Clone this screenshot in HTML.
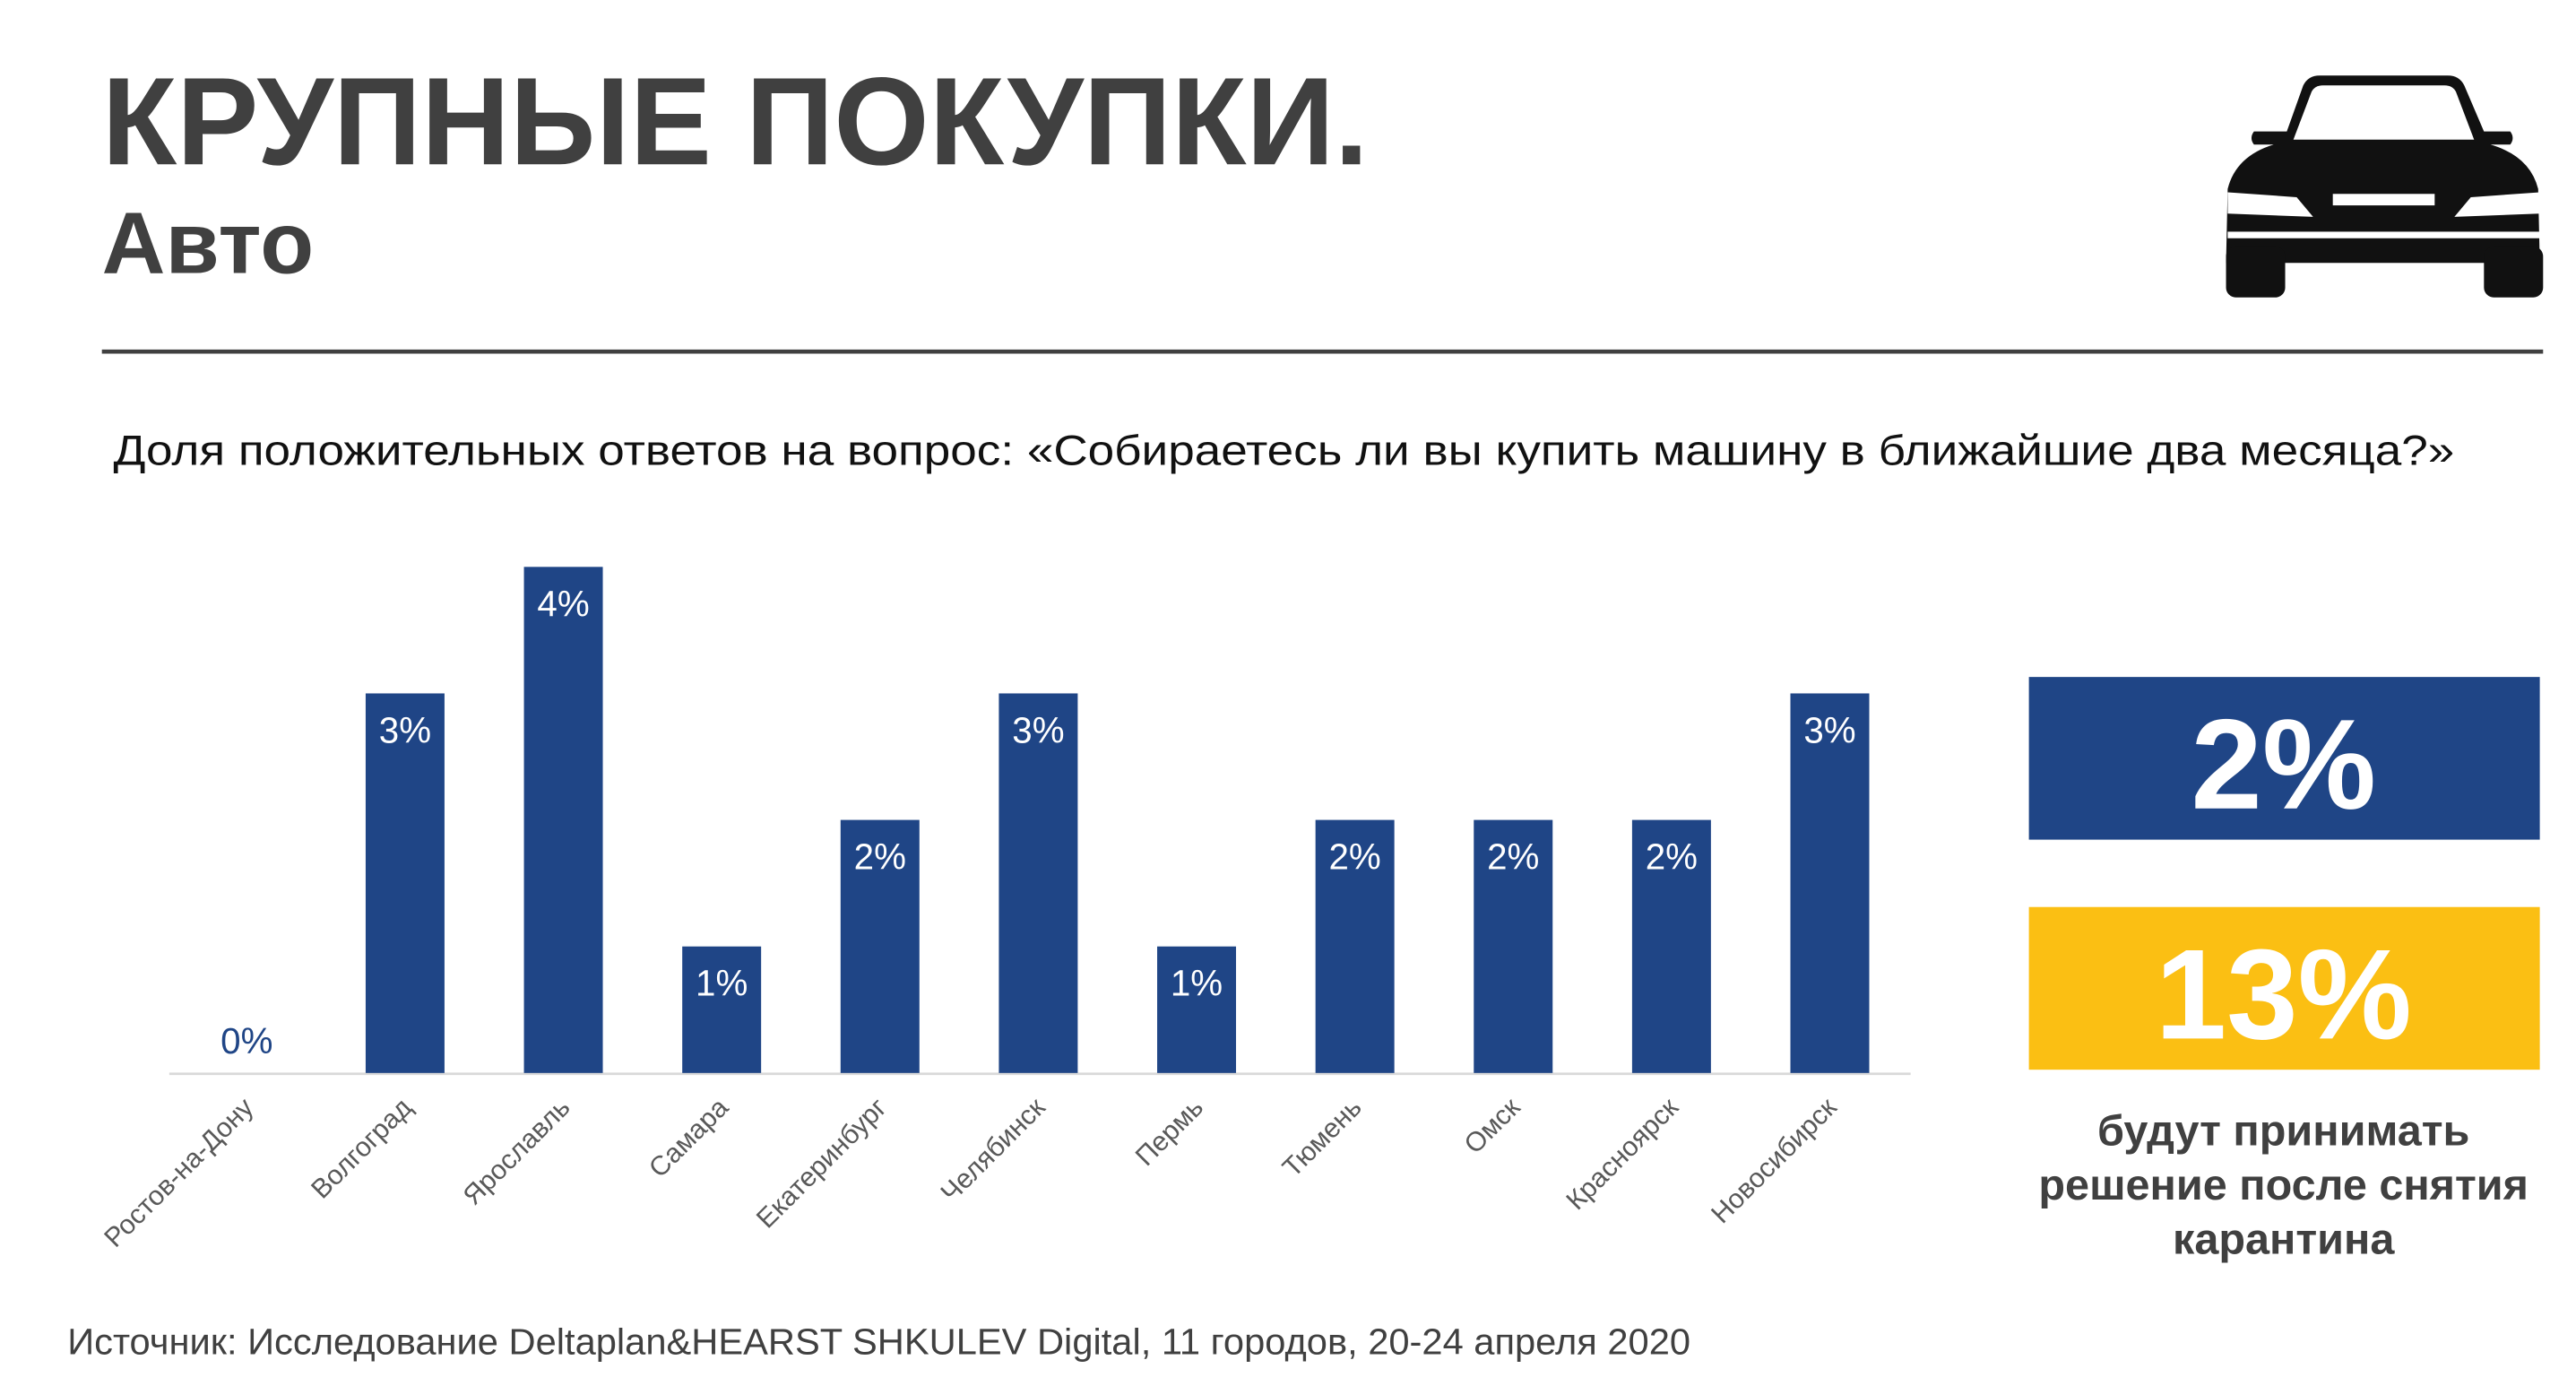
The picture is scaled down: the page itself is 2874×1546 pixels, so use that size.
<!DOCTYPE html>
<html><head><meta charset="utf-8"><style>html,body{margin:0;padding:0;background:#fff}svg{display:block}</style></head>
<body>
<svg width="2874" height="1546" viewBox="0 0 1568 843.5" xmlns="http://www.w3.org/2000/svg" font-family="'Liberation Sans', 'DejaVu Sans', sans-serif">
<rect width="1568" height="843.5" fill="#fff"/>
<text x="62" y="100" font-size="76" font-weight="bold" fill="#404040" textLength="771" lengthAdjust="spacingAndGlyphs">КРУПНЫЕ ПОКУПКИ.</text>
<text x="62" y="166" font-size="53" font-weight="bold" fill="#404040" textLength="129" lengthAdjust="spacingAndGlyphs">Авто</text>
<g fill="#111">
  <path d="M1392,80 L1402,52 Q1405,46 1412,46 L1490,46 Q1497,46 1500,52 L1512,80 L1528,80 Q1531,84 1528,88 L1516,88 Q1540,95 1545,115 L1546,160 L1355,160 L1356,115 Q1361,95 1384,88 L1372,88 Q1369,84 1372,80 Z"/>
  <path d="M1396,85 L1407,56 Q1409,52 1414,52 L1488,52 Q1493,52 1495,56 L1506,85 Z" fill="#fff"/>
  <rect x="1355" y="150" width="36" height="31" rx="6"/>
  <rect x="1512" y="150" width="36" height="31" rx="6"/>
  <path d="M1356,117 L1398,120 L1408,132 L1356,130 Z" fill="#fff"/>
  <path d="M1546,117 L1504,120 L1494,132 L1546,130 Z" fill="#fff"/>
  <rect x="1420" y="118" width="62" height="7" fill="#fff"/>
  <rect x="1356" y="141" width="190" height="4" fill="#fff"/>
</g>
<line x1="62" y1="214" x2="1548" y2="214" stroke="#404040" stroke-width="2.5"/>
<text x="69" y="283" font-size="26" fill="#111" textLength="1425" lengthAdjust="spacingAndGlyphs">Доля положительных ответов на вопрос: «Собираетесь ли вы купить машину в ближайшие два месяца?»</text>
<g id="chart"></g>
<rect x="1235" y="412" width="311" height="99" fill="#1F4586"/>
<text x="1390" y="492" font-size="78" font-weight="bold" fill="#fff" text-anchor="middle">2%</text>
<rect x="1235" y="552" width="311" height="99" fill="#FBBF13"/>
<text x="1390" y="632" font-size="78" font-weight="bold" fill="#fff" text-anchor="middle">13%</text>
<g font-size="26.5" font-weight="bold" fill="#404040" text-anchor="middle">
<text x="1390" y="697">будут принимать</text>
<text x="1390" y="730">решение после снятия</text>
<text x="1390" y="763">карантина</text>
</g>
<text x="41" y="824" font-size="22" fill="#404040" textLength="988" lengthAdjust="spacingAndGlyphs">Источник: Исследование Deltaplan&amp;HEARST SHKULEV Digital, 11 городов, 20-24 апреля 2020</text>
</svg>
<script>
const categories = ["Ростов-на-Дону","Волгоград","Ярославль","Самара","Екатеринбург","Челябинск","Пермь","Тюмень","Омск","Красноярск","Новосибирск"];
const values = [0,3,4,1,2,3,1,2,2,2,3];
const valueLabels = ["0%","3%","4%","1%","2%","3%","1%","2%","2%","2%","3%"];
const NS = "http://www.w3.org/2000/svg";
const g = document.getElementById('chart');
const x0 = 103, x1 = 1163, base = 653, unit = 77, bw = 48;
const step = (x1 - x0) / categories.length;
const xc = i => x0 + step * (i + 0.5) - 1;
const yv = v => base - v * unit;
function mk(tag, attrs){ const e = document.createElementNS(NS, tag); for (const k in attrs) e.setAttribute(k, attrs[k]); g.appendChild(e); return e; }
const axis = mk('line', {x1:x0, y1:base+0.5, x2:x1, y2:base+0.5, stroke:'#d9d9d9', 'stroke-width':1.5});


categories.forEach((c, i) => {
  const v = values[i];
  const cx = xc(i);
  if (v > 0) {
    const r = mk('rect', {x:cx - bw/2, y:yv(v), width:bw, height:base - yv(v), fill:'#1F4586'});
    
    
  }
  const t = mk('text', {x:cx, y: v > 0 ? yv(v) + 30 : base - 12, 'font-size':22, 'text-anchor':'middle', fill: v > 0 ? '#fff' : '#1F4586'});
  t.textContent = valueLabels[i];
  
  
  const lx = cx + 5, ly = 675;
  const l = mk('text', {x:lx, y:ly, 'font-size':16.5, 'text-anchor':'end', fill:'#595959', transform:'rotate(-45 ' + lx + ' ' + ly + ')'});
  l.textContent = c;
  
  
});
</script>
</body></html>
